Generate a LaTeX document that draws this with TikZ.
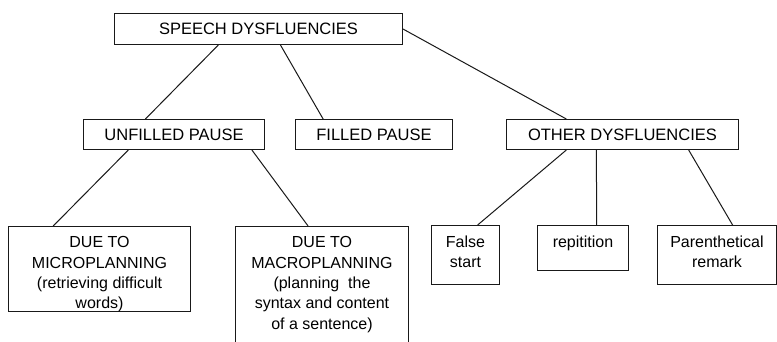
\documentclass[tikz,border=0pt]{standalone}
\usepackage{fontspec}
\setmainfont{Liberation Sans}
\usetikzlibrary{calc}
\tikzset{
  box/.style={draw=black!90, line width=1pt, rectangle, inner sep=0pt, anchor=north west},
  uptext/.style={font=\fontsize{16.5}{20}\selectfont},
  lowtext/.style={font=\fontsize{16}{20.3}\selectfont, align=center, inner sep=0pt, anchor=north},
  link/.style={draw=black!90, line width=1pt}
}
\begin{document}
\begin{tikzpicture}[x=1pt, y=-1pt]
\clip (0,0) rectangle (777,341);
\fill[white] (0,0) rectangle (777,341);

% upper levels
\node[box, uptext, minimum width=288pt, minimum height=31pt] (top) at (114,13) {SPEECH DYSFLUENCIES};
\node[box, uptext, minimum width=181pt, minimum height=30pt] (unfilled) at (83,119) {UNFILLED PAUSE};
\node[box, uptext, minimum width=157pt, minimum height=30pt] (filled) at (295,119) {FILLED PAUSE};
\node[box, uptext, minimum width=232pt, minimum height=30pt] (other) at (506,119) {OTHER DYSFLUENCIES};

% lower level boxes
\node[box, minimum width=182pt, minimum height=85pt] (micro) at (8,226) {};
\node[box, minimum width=173pt, minimum height=140pt] (macro) at (235,226) {};
\node[box, minimum width=68pt, minimum height=59pt] (false) at (431,225) {};
\node[box, minimum width=91pt, minimum height=45pt] (repit) at (537,225) {};
\node[box, minimum width=119pt, minimum height=59pt] (paren) at (657,225) {};

% lower level texts
\node[lowtext] (microtxt) at ([yshift=-10.5pt]micro.north) {DUE TO\\MICROPLANNING\\(retrieving difficult\\words)};
\node[lowtext] (macrotxt) at ([yshift=-10.5pt]macro.north) {DUE TO\\MACROPLANNING\\(planning\ \ the\\syntax and content\\of a sentence)};
\node[lowtext] (falsetxt) at ([yshift=-10.5pt]false.north) {False\\start};
\node[lowtext] (repittxt) at ([yshift=-10.5pt]repit.north) {repitition};
\node[lowtext] (parentxt) at ([yshift=-10.5pt]paren.north) {Parenthetical\\remark};

% connectors
\draw[link] ($(top.south west)!0.361!(top.south east)$) -- ($(unfilled.north west)!0.343!(unfilled.north east)$);
\draw[link] ($(top.south west)!0.576!(top.south east)$) -- ($(filled.north west)!0.178!(filled.north east)$);
\draw[link] (top.east) -- ($(other.north west)!0.259!(other.north east)$);
\draw[link] ($(unfilled.south west)!0.249!(unfilled.south east)$) -- ($(micro.north west)!0.247!(micro.north east)$);
\draw[link] ($(unfilled.south west)!0.928!(unfilled.south east)$) -- ($(macro.north west)!0.42!(macro.north east)$);
\draw[link] ($(other.south west)!0.259!(other.south east)$) -- ($(false.north west)!0.676!(false.north east)$);
\draw[link] ($(other.south west)!0.388!(other.south east)$) -- ($(repit.north west)!0.648!(repit.north east)$);
\draw[link] ($(other.south west)!0.784!(other.south east)$) -- ($(paren.north west)!0.63!(paren.north east)$);
\end{tikzpicture}
\end{document}
